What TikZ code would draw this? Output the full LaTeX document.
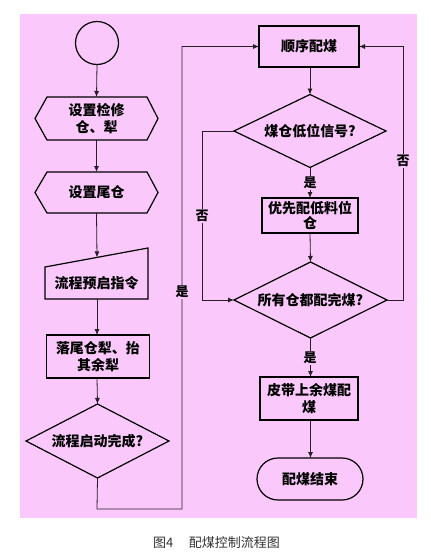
\documentclass[tikz,border=0pt]{standalone}
\usepackage{fontspec}
\newfontfamily\cjk{Noto Sans CJK SC}
\usetikzlibrary{arrows.meta}
\definecolor{bgpink}{RGB}{250,200,250}
\definecolor{linegray}{RGB}{40,30,40}
\begin{document}
\begin{tikzpicture}[x=1pt,y=-1pt,
  frame/.style={draw=none,inner sep=0pt,outer sep=0pt,font=\cjk\bfseries\fontsize{14}{16.5}\selectfont,align=center},
  outline/.style={draw=black,line width=1.2pt,line join=miter},
  conn/.style={draw=linegray,line width=0.8pt},
  arr/.style={conn,-{Latex[length=6pt,width=5pt]}},
  lbl/.style={fill=bgpink,inner sep=1pt,font=\cjk\bfseries\fontsize{13}{15}\selectfont}]
\useasboundingbox (0,0) rectangle (431,560);
\fill[white] (0,0) rectangle (431,560);
\fill[bgpink] (20,14) rectangle (417,518);
% left column
\node[frame,circle,minimum size=43pt,outline] (start) at (97,43) {};
\node[frame,minimum width=123pt,minimum height=43pt] (h1) at (96.5,118.5) {设置检修\\仓、犁};
\draw[outline] (h1.west) -- ([xshift=12pt]h1.north west) -- ([xshift=-11pt]h1.north east) -- (h1.east) -- ([xshift=-11pt]h1.south east) -- ([xshift=12pt]h1.south west) -- cycle;
\node[frame,minimum width=123pt,minimum height=41pt] (h2) at (96.5,192.5) {设置尾仓};
\draw[outline] (h2.west) -- ([xshift=12pt]h2.north west) -- ([xshift=-11pt]h2.north east) -- (h2.east) -- ([xshift=-11pt]h2.south east) -- ([xshift=12pt]h2.south west) -- cycle;
\node[frame,minimum width=103pt,minimum height=31pt,anchor=south] (mi) at (96.5,299) {流程预启指令};
\coordinate (mitl) at (45,267);
\coordinate (mitr) at (148,248);
\coordinate (mitop) at (97,257.4);
\draw[outline] (mi.south west) -- (mitl) -- (mitr) -- (mi.south east) -- cycle;
\node[frame,minimum width=103pt,minimum height=43pt,outline] (b1) at (98,356.5) {落尾仓犁、抬\\其余犁};
\node[frame,minimum width=143pt,minimum height=74pt] (d1) at (97.5,441) {流程启动完成?};
\draw[outline] (d1.north) -- (d1.east) -- (d1.south) -- (d1.west) -- cycle;
% right column
\node[frame,minimum width=100pt,minimum height=41pt,outline] (s1) at (309,46.5) {顺序配煤};
\node[frame,minimum width=152pt,minimum height=73pt] (d2) at (310,131) {煤仓低位信号?};
\draw[outline] (d2.north) -- (d2.east) -- (d2.south) -- (d2.west) -- cycle;
\node[frame,minimum width=96pt,minimum height=35pt,outline,font=\cjk\bfseries\fontsize{14}{15.5}\selectfont] (b2) at (310,215.5) {优先配低料位\\仓};
\node[frame,minimum width=153pt,minimum height=76pt] (d3) at (310.5,300) {所有仓都配完煤?};
\draw[outline] (d3.north) -- (d3.east) -- (d3.south) -- (d3.west) -- cycle;
\node[frame,minimum width=98pt,minimum height=43pt,outline] (b3) at (309,398.5) {皮带上余煤配\\煤};
\node[frame,minimum width=106pt,minimum height=42pt] (t) at (310,479) {配煤结束};
\draw[outline] ([xshift=21pt]t.north west) -- ([xshift=-21pt]t.north east) arc[start angle=90,end angle=-90,radius=21pt] -- ([xshift=21pt]t.south west) arc[start angle=270,end angle=90,radius=21pt] -- cycle;
% connectors
\draw[arr] (start.south) -- (h1.north);
\draw[arr] (h1.south) -- (h2.north);
\draw[arr] (h2.south) -- (mitop);
\draw[arr] (mi.south -| mitop) -- (b1.north -| mitop);
\draw[arr] (b1.south -| mitop) -- (d1.north);
\coordinate (c1) at (97,509);
\coordinate (c2) at (182,509);
\coordinate (c3) at (182,46.5);
\draw[arr] (d1.south) -- (c1) -- (c2) -- (c3) -- (s1.west);
\node[lbl] (y1) at (182,292) {是};
\draw[arr] (s1.south -| d2.north) -- (d2.north);
\draw[arr] (d2.south) -- (b2.north);
\node[lbl] (y2) at (310,183) {是};
\draw[arr] (b2.south) -- (d3.north);
\coordinate (l1) at (202,131);
\coordinate (l2) at (202,300);
\draw[arr] (d2.west) -- (l1) -- (l2) -- (d3.west);
\node[lbl] (n1) at (202,216) {否};
\coordinate (r1) at (403,300);
\coordinate (r2) at (403,46.5);
\draw[arr] (d3.east) -- (r1) -- (r2) -- (s1.east);
\node[lbl] (n2) at (403,161) {否};
\draw[arr] (d3.south) -- (b3.north -| d3.south);
\node[lbl] (y3) at (310,358) {是};
\draw[arr] (b3.south -| d3.south) -- (t.north -| d3.south);
% caption
\node[font=\cjk\fontsize{13}{15}\selectfont,text=black!80,inner sep=0pt] (cap) at (216.5,543) {图4\hspace{1.2em}配煤控制流程图};
\end{tikzpicture}
\end{document}
